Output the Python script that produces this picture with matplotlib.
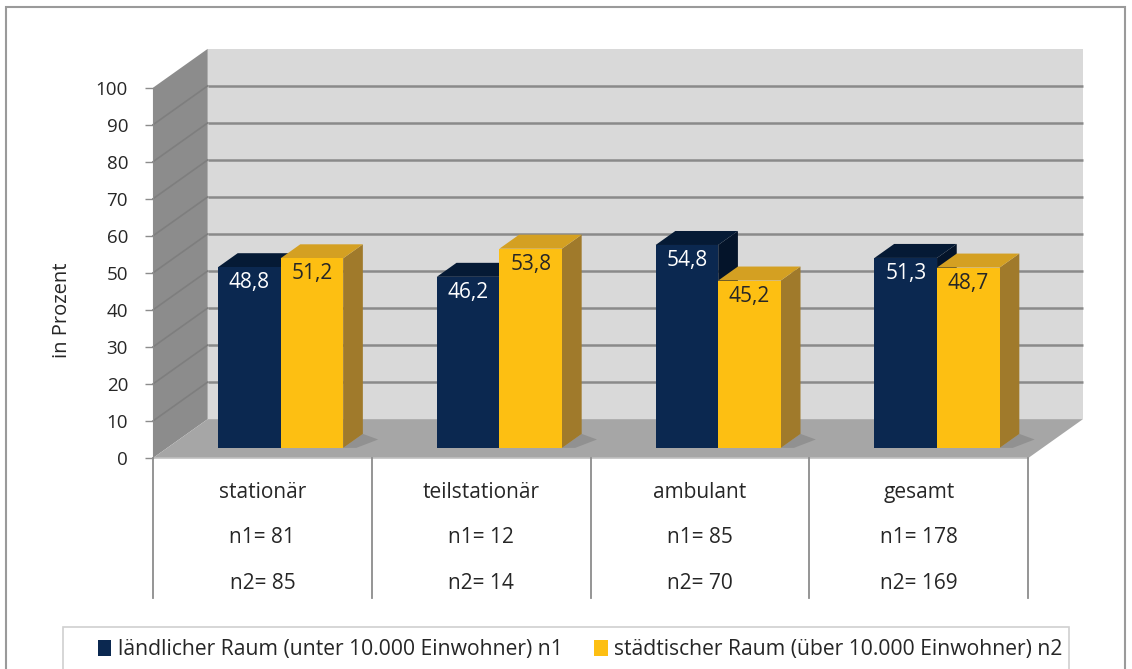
import matplotlib
matplotlib.use("Agg")
import matplotlib.pyplot as plt
from matplotlib.patches import Polygon, Rectangle

plt.rcParams["font.family"] = ["Open Sans", "DejaVu Sans"]

categories = ["stationär", "teilstationär", "ambulant", "gesamt"]
n1 = [81, 12, 85, 178]
n2 = [85, 14, 70, 169]
laendlich = [48.8, 46.2, 54.8, 51.3]
staedtisch = [51.2, 53.8, 45.2, 48.7]
series_labels = [
    "ländlicher Raum (unter 10.000 Einwohner) n1",
    "städtischer Raum (über 10.000 Einwohner) n2",
]
yticks = list(range(0, 101, 10))

W, H = 1132, 669
fig = plt.figure(figsize=(W / 100, H / 100), dpi=100)
ax = fig.add_axes([153 / W, 1 - 458 / H, 930 / W, 411 / H])
ax.set_xlim(-0.5, 3.75)
ax.set_ylim(0, 111)

# oblique "3d" depth offset in data units
DX, DY = 0.25, 10.5
z0, dz = 0.26, 0.36
bw, shift = 0.286, 0.018
txt = "#262626"
grid_c = "#8a8a8a"

# walls and floor
back = Polygon([(-0.5 + DX, DY), (3.5 + DX, DY), (3.5 + DX, 100 + DY), (-0.5 + DX, 100 + DY)],
               closed=True, fc="#d9d9d9", ec="none", zorder=0, clip_on=False)
left = Polygon([(-0.5, 0), (-0.5 + DX, DY), (-0.5 + DX, 100 + DY), (-0.5, 100)],
               closed=True, fc="#8c8c8c", ec="none", zorder=0, clip_on=False)
floor = Polygon([(-0.5, 0), (3.5, 0), (3.5 + DX, DY), (-0.5 + DX, DY)],
                closed=True, fc="#a6a6a6", ec="none", zorder=1, clip_on=False)
for p in (back, left, floor):
    ax.add_patch(p)

for t in yticks[1:-1]:
    ax.plot([-0.5 + DX, 3.5 + DX], [t + DY, t + DY], color=grid_c, lw=1.8, zorder=0.5,
            solid_capstyle="butt", clip_on=False)
    ax.plot([-0.5, -0.5 + DX], [t, t + DY], color="#7e7e7e", lw=1.2, zorder=0.5, clip_on=False)

# bars
base = z0 * DY
series = [
    (laendlich, -1, "#0b2850", "#051a35", "#04142a", "white", 3),
    (staedtisch, 0, "#fdbf12", "#d4a022", "#a07a2b", txt, 4),
]
handles = []
for vals, side, c_front, c_top, c_side, c_lab, zo in series:
    xs = [i + shift + z0 * DX + side * bw + bw / 2 for i in range(len(categories))]
    for x, v in zip(xs, vals):
        xl, xr = x - bw / 2, x + bw / 2
        ax.add_patch(Polygon([(xr, base), (xr + dz * DX, base + dz * DY),
                              (xr + dz * DX, v + base + dz * DY), (xr, v + base)],
                             closed=True, fc=c_side, ec="none", zorder=zo, clip_on=False))
        ax.add_patch(Polygon([(xl, v + base), (xr, v + base),
                              (xr + dz * DX, v + base + dz * DY), (xl + dz * DX, v + base + dz * DY)],
                             closed=True, fc=c_top, ec="none", zorder=zo, clip_on=False))
        # soft floor shadow
        ax.add_patch(Polygon([(xr, base), (xr + dz * DX, base + dz * DY),
                              (xr + dz * DX + 0.07, base + dz * DY * 0.6), (xr + 0.06, base)],
                             closed=True, fc="#6a6a6a", alpha=0.35, ec="none", zorder=1.5,
                             clip_on=False))
    bars = ax.bar(xs, vals, width=bw, bottom=base, color=c_front, zorder=zo, clip_on=False)
    handles.append(bars)
    for x, v in zip(xs, vals):
        ax.text(x, v + base - 4.2, f"{v:.1f}".replace(".", ","), ha="center", va="center",
                color=c_lab, fontsize=15, zorder=zo + 0.5)

# axes styling
for s in ("top", "right", "bottom"):
    ax.spines[s].set_visible(False)
ax.spines["left"].set_bounds(0, 100)
ax.spines["left"].set_color("#8c8c8c")
ax.set_xticks([])
ax.set_yticks(yticks)
ax.tick_params(axis="y", length=6, width=1, color="#8c8c8c", pad=12, labelsize=13.5,
               labelcolor=txt)
ax.patch.set_visible(False)

# data table below the floor
ax.plot([-0.5, 3.5], [0, 0], color="#c0c0c0", lw=1.2, zorder=2, clip_on=False)
for b in [-0.5, 0.5, 1.5, 2.5, 3.5]:
    ax.plot([b, b], [0, -37.8], color="#8c8c8c", lw=1.3, clip_on=False)
for i, cat in enumerate(categories):
    ax.text(i, -9.2, cat, ha="center", va="center", fontsize=15, color=txt, clip_on=False)
    ax.text(i, -21.6, f"n1= {n1[i]}", ha="center", va="center", fontsize=15, color=txt,
            clip_on=False)
    ax.text(i, -33.8, f"n2= {n2[i]}", ha="center", va="center", fontsize=15, color=txt,
            clip_on=False)

fig.text(62 / W, 1 - 310 / H, "in Prozent", rotation=90, ha="center", va="center",
         fontsize=14.5, color=txt)

# legend
fig.patches.append(Rectangle((63 / W, -0.02), (1069 - 63) / W, 0.02 + 1 - 627 / H,
                             transform=fig.transFigure, fc="none", ec="#d0d0d0", lw=1.2))
fig.legend(handles, series_labels, loc="center", bbox_to_anchor=(580 / W, 1 - 650 / H),
           ncol=2, frameon=False, handlelength=0.65, handleheight=0.8, handletextpad=0.3,
           columnspacing=1.5, fontsize=15.2, labelcolor=txt, borderaxespad=0,
           borderpad=0)

# outer chart border
fig.patches.append(Rectangle((6 / W, -0.02), (1125 - 6) / W, 0.02 + 1 - 7 / H,
                             transform=fig.transFigure, fc="none", ec="#9a9a9a", lw=1.5))

fig.savefig("out.png", dpi=100)
